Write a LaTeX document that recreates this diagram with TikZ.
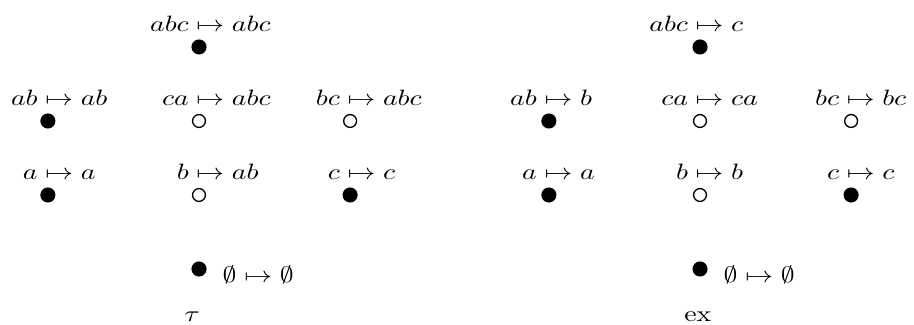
\documentclass[tikz,border=0pt]{standalone}
\usepackage{amsmath}
\usepackage{amssymb}
\usepackage{tikz}
\usetikzlibrary{positioning}
\tikzset{
  dot/.style={circle, fill=black, inner sep=0pt, minimum size=6.8pt},
  ring/.style={circle, draw=black, line width=0.6pt, inner sep=0pt,
               minimum size=5.8pt},
  lbl/.style={inner sep=0pt, anchor=base west, xscale=1.25},
  caplbl/.style={inner sep=0pt, anchor=base, xscale=1.25},
}
% label with the bar of the arrow right above the point
\newcommand{\mapl}[2]{\llap{$#1\;$}$\mapsto #2$}

\begin{document}
\begin{tikzpicture}[x=0.45pt, y=0.45pt, node distance=33.3pt and 68pt, on grid]
    \useasboundingbox (0,0) rectangle (914,325);
    % tau
    \node[dot] (Labc) at (199,278) {};
    \node[dot,below left=of Labc] (Lab) {};
    \node[ring,below=of Labc] (Lca) {};
    \node[ring,below right=of Labc] (Lbc) {};
    \node[dot,below=of Lab] (La) {};
    \node[ring,below=of Lca] (Lb) {};
    \node[dot,below=of Lbc] (Lc) {};
    \node[dot,below=of Lb] (Lemp) {};
    \node[lbl] (Labc-t) at ([xshift=-1.4pt,yshift=6.8pt]Labc.center) {\mapl{abc}{abc}};
    \node[lbl] (Lab-t) at ([xshift=-1.4pt,yshift=6.8pt]Lab.center) {\mapl{ab}{ab}};
    \node[lbl] (Lca-t) at ([xshift=-1.4pt,yshift=6.8pt]Lca.center) {\mapl{ca}{abc}};
    \node[lbl] (Lbc-t) at ([xshift=-1.4pt,yshift=6.8pt]Lbc.center) {\mapl{bc}{abc}};
    \node[lbl] (La-t) at ([xshift=-1.4pt,yshift=6.8pt]La.center) {\mapl{a}{a}};
    \node[lbl] (Lb-t) at ([xshift=-1.4pt,yshift=6.8pt]Lb.center) {\mapl{b}{ab}};
    \node[lbl] (Lc-t) at ([xshift=-1.4pt,yshift=6.8pt]Lc.center) {\mapl{c}{c}};
    \node[lbl] (Lemp-t) at ([xshift=10.4pt,yshift=-6.3pt]Lemp.center) {$\emptyset\mapsto\emptyset$};
    \node[caplbl] (Ltau) at ([xshift=-3pt,yshift=-23.5pt]Lemp.center) {$\tau$};
    % ex
    \node[dot] (Rabc) at (700,278) {};
    \node[dot,below left=of Rabc] (Rab) {};
    \node[ring,below=of Rabc] (Rca) {};
    \node[ring,below right=of Rabc] (Rbc) {};
    \node[dot,below=of Rab] (Ra) {};
    \node[ring,below=of Rca] (Rb) {};
    \node[dot,below=of Rbc] (Rc) {};
    \node[dot,below=of Rb] (Remp) {};
    \node[lbl] (Rabc-t) at ([xshift=-2.2pt,yshift=6.8pt]Rabc.center) {\mapl{abc}{c}};
    \node[lbl] (Rab-t) at ([xshift=-2.2pt,yshift=6.8pt]Rab.center) {\mapl{ab}{b}};
    \node[lbl] (Rca-t) at ([xshift=-2.2pt,yshift=6.8pt]Rca.center) {\mapl{ca}{ca}};
    \node[lbl] (Rbc-t) at ([xshift=-2.2pt,yshift=6.8pt]Rbc.center) {\mapl{bc}{bc}};
    \node[lbl] (Ra-t) at ([xshift=-2.2pt,yshift=6.8pt]Ra.center) {\mapl{a}{a}};
    \node[lbl] (Rb-t) at ([xshift=-2.2pt,yshift=6.8pt]Rb.center) {\mapl{b}{b}};
    \node[lbl] (Rc-t) at ([xshift=-2.2pt,yshift=6.8pt]Rc.center) {\mapl{c}{c}};
    \node[lbl] (Remp-t) at ([xshift=10.4pt,yshift=-6.3pt]Remp.center) {$\emptyset\mapsto\emptyset$};
    \node[caplbl] (Rex) at ([xshift=-1pt,yshift=-23.5pt]Remp.center) {ex};
  \end{tikzpicture}
\end{document}
